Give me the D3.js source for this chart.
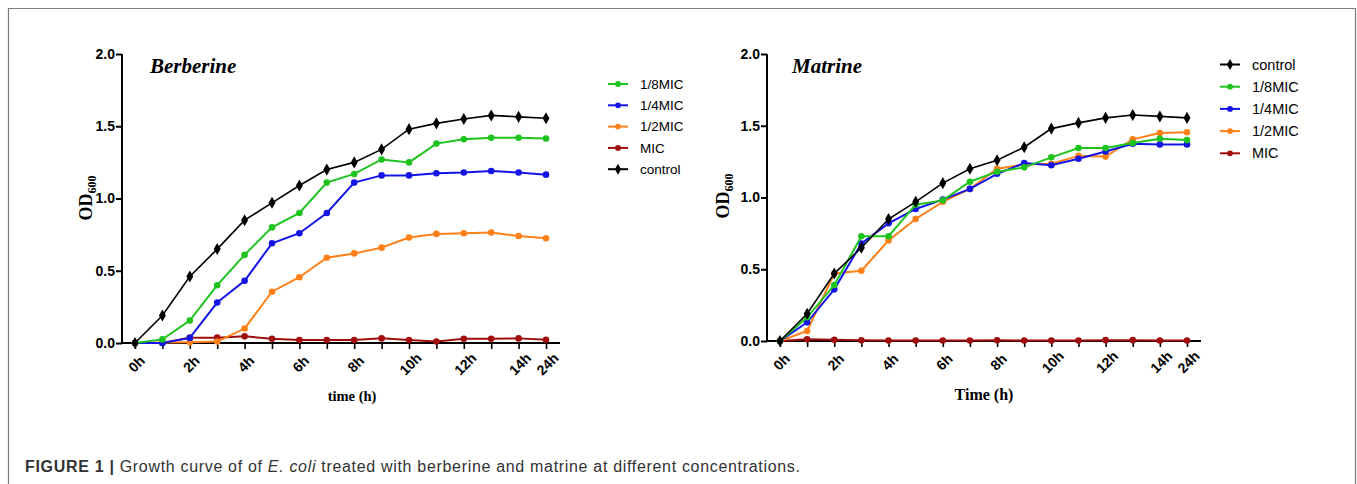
<!DOCTYPE html>
<html>
<head>
<meta charset="utf-8">
<script src="https://cdn.jsdelivr.net/npm/d3@7"></script>
<style>
  body { margin: 0; background: #fff; }
  svg { display: block; }
</style>
</head>
<body>
<div id="chart"></div>
<script>
// sampling points (h), the last one is 24h
var times = ["0h","1h","2h","3h","4h","5h","6h","7h","8h","9h","10h","11h","12h","13h","14h","24h"];
var shownTicks = ["0h","2h","4h","6h","8h","10h","12h","14h","24h"];
var yTicks = [0, 0.5, 1.0, 1.5, 2.0];

// Berberine
var ber_control = [0, 0.19, 0.46, 0.65, 0.85, 0.97, 1.09, 1.20, 1.25, 1.34, 1.48, 1.52, 1.55, 1.575, 1.565, 1.555];
var ber_mic8 = [0, 0.025, 0.155, 0.40, 0.61, 0.80, 0.90, 1.11, 1.17, 1.27, 1.25, 1.38, 1.41, 1.42, 1.42, 1.415];
var ber_mic4 = [0, 0, 0.035, 0.28, 0.43, 0.69, 0.76, 0.90, 1.11, 1.16, 1.16, 1.175, 1.18, 1.19, 1.18, 1.165];
var ber_mic2 = [0, 0.003, 0.005, 0.01, 0.10, 0.355, 0.455, 0.59, 0.62, 0.66, 0.73, 0.755, 0.76, 0.765, 0.74, 0.725];
var ber_mic = [0, 0, 0.037, 0.037, 0.046, 0.03, 0.02, 0.02, 0.02, 0.032, 0.02, 0.01, 0.03, 0.03, 0.032, 0.023];

// Matrine
var mat_control = [0, 0.19, 0.47, 0.65, 0.85, 0.97, 1.10, 1.20, 1.26, 1.35, 1.48, 1.52, 1.555, 1.575, 1.565, 1.555];
var mat_mic8 = [0, 0.165, 0.39, 0.73, 0.73, 0.95, 0.98, 1.11, 1.18, 1.21, 1.28, 1.345, 1.345, 1.38, 1.41, 1.40];
var mat_mic4 = [0, 0.13, 0.36, 0.68, 0.82, 0.92, 0.985, 1.06, 1.165, 1.24, 1.225, 1.27, 1.32, 1.375, 1.37, 1.37];
var mat_mic2 = [0, 0.07, 0.47, 0.49, 0.70, 0.85, 0.97, 1.06, 1.20, 1.23, 1.235, 1.29, 1.285, 1.405, 1.45, 1.455];
var mat_mic = [0, 0.012, 0.008, 0.005, 0.004, 0.003, 0.003, 0.003, 0.005, 0.003, 0.003, 0.003, 0.006, 0.006, 0.003, 0.003];

var colors = {
  'control': '#000000',
  '1/8MIC': '#1ec31e',
  '1/4MIC': '#1414e6',
  '1/2MIC': '#ff8019',
  'MIC': '#a00d0d'
};

var width = 1357, height = 484;
var svg = d3.select("#chart").append("svg").attr("width", width).attr("height", height);

// figure frame
svg.append("path")
  .attr("d", "M8.5," + height + "V8.5H1355.5V" + height)
  .attr("fill", "none").attr("stroke", "#7a7a7a").attr("stroke-width", 1.2);

function drawPanel(opt) {
  var g = svg.append("g");
  var x = d3.scalePoint().domain(times).range([opt.x0, opt.x1]);
  var y = d3.scaleLinear().domain([0, 2]).range([opt.yb, opt.yt]);

  // y axis
  var ya = g.append("g").attr("transform", "translate(" + opt.ax + ",0)")
    .call(d3.axisLeft(y).tickValues(yTicks).tickFormat(d3.format(".1f")).tickSizeOuter(0).tickSize(6));
  ya.select(".domain").attr("stroke-width", 2).attr("d", "M0," + (opt.yb + 1) + "V" + opt.yt);
  ya.selectAll(".tick line").attr("stroke-width", 2);
  ya.selectAll(".tick text").attr("font-family", "Liberation Sans, Arial, sans-serif")
    .attr("font-weight", "bold").attr("font-size", 14).attr("fill", "#000").attr("x", -7);

  // x axis
  var xa = g.append("g").attr("transform", "translate(0," + opt.yb + ")")
    .call(d3.axisBottom(x).tickSize(6).tickSizeOuter(0)
      .tickFormat(function(d){ return shownTicks.indexOf(d) >= 0 ? d : ""; }));
  xa.select(".domain").attr("stroke-width", 2).attr("d", "M" + (opt.ax - 1) + ",0H" + opt.xend);
  xa.selectAll(".tick line").attr("stroke-width", 1.6);
  xa.selectAll(".tick text")
    .attr("font-family", "Liberation Sans, Arial, sans-serif")
    .attr("font-weight", "bold").attr("font-size", 14).attr("fill", "#000")
    .attr("text-anchor", "middle").attr("dy", "0.35em").attr("y", 0)
    .attr("transform", "translate(1,21) rotate(-45)");

  // series
  var line = d3.line().x(function(d, i){ return x(times[i]); }).y(function(d){ return y(d); });
  opt.series.slice().reverse().forEach(function(s){
    var c = colors[s.name];
    g.append("path").datum(s.values).attr("d", line)
      .attr("fill", "none").attr("stroke", c).attr("stroke-width", s.name == 'control' ? 1.6 : 2);
    var sym = d3.symbol().type(s.name == 'control' ? d3.symbolDiamond : d3.symbolCircle)
      .size(s.name == 'control' ? 42 : 34);
    g.selectAll(null).data(s.values).enter().append("path")
      .attr("d", sym)
      .attr("transform", function(d, i){ return "translate(" + x(times[i]) + "," + y(d) + ")"; })
      .attr("fill", c);
  });

  // title
  g.append("text").attr("x", opt.tx).attr("y", 73).text(opt.title)
    .attr("font-family", "Liberation Serif, Times New Roman, serif")
    .attr("font-weight", "bold").attr("font-style", "italic").attr("font-size", 21);

  // y label
  var yl = g.append("text").attr("transform", "translate(" + opt.ylx + "," + opt.yly + ") rotate(-90)")
    .attr("text-anchor", "middle")
    .attr("font-family", "Liberation Serif, Times New Roman, serif").attr("font-weight", "bold").attr("font-size", 18);
  yl.append("tspan").text("OD");
  yl.append("tspan").attr("font-size", 12).attr("dy", 4).text("600");

  // x label
  g.append("text").attr("x", opt.xlx).attr("y", opt.xly).attr("text-anchor", "middle")
    .attr("font-family", "Liberation Serif, Times New Roman, serif").attr("font-weight", "bold")
    .attr("font-size", opt.xlsize).text(opt.xlabel);

  // legend
  var lg = g.append("g").attr("transform", "translate(" + opt.lx + "," + opt.ly + ")");
  opt.legend.forEach(function(name, i){
    var c = colors[name];
    var row = lg.append("g").attr("transform", "translate(0," + (i * opt.lstep) + ")");
    row.append("line").attr("x1", 0).attr("x2", 20).attr("stroke", c).attr("stroke-width", 2);
    row.append("path").attr("transform", "translate(10,0)")
      .attr("d", d3.symbol().type(name == 'control' ? d3.symbolDiamond : d3.symbolCircle).size(name == 'control' ? 34 : 26)())
      .attr("fill", c);
    row.append("text").attr("x", 32).attr("dy", "0.35em").text(name)
      .attr("font-family", "Liberation Sans, Arial, sans-serif").attr("font-size", opt.lsize);
  });
}

drawPanel({
  ax: 122, x0: 135, x1: 546, xend: 560, yb: 343, yt: 54,
  title: "Berberine", tx: 150,
  ylx: 92, yly: 198,
  xlabel: "time (h)", xlx: 352, xly: 401, xlsize: 14.5,
  lx: 608, ly: 84, lstep: 21.3, lsize: 13.5,
  legend: ['1/8MIC', '1/4MIC', '1/2MIC', 'MIC', 'control'],
  series: [
    {name: 'control', values: ber_control},
    {name: '1/8MIC', values: ber_mic8},
    {name: '1/4MIC', values: ber_mic4},
    {name: '1/2MIC', values: ber_mic2},
    {name: 'MIC', values: ber_mic}
  ]
});

drawPanel({
  ax: 767, x0: 780, x1: 1187, xend: 1201, yb: 341, yt: 54,
  title: "Matrine", tx: 792,
  ylx: 729, yly: 196,
  xlabel: "Time (h)", xlx: 984, xly: 400, xlsize: 16,
  lx: 1220, ly: 64.5, lstep: 22.2, lsize: 14.5,
  legend: ['control', '1/8MIC', '1/4MIC', '1/2MIC', 'MIC'],
  series: [
    {name: 'control', values: mat_control},
    {name: '1/8MIC', values: mat_mic8},
    {name: '1/4MIC', values: mat_mic4},
    {name: '1/2MIC', values: mat_mic2},
    {name: 'MIC', values: mat_mic}
  ]
});

// caption
var cap = svg.append("text").attr("x", 25).attr("y", 472)
  .attr("font-family", "Liberation Sans, Arial, sans-serif").attr("font-size", 16).attr("fill", "#333")
  .attr("textLength", 775).attr("lengthAdjust", "spacing");
cap.append("tspan").attr("font-weight", "bold").text("FIGURE 1 | ");
cap.append("tspan").text("Growth curve of of ");
cap.append("tspan").attr("font-style", "italic").text("E. coli");
cap.append("tspan").text(" treated with berberine and matrine at different concentrations.");
</script>
</body>
</html>
